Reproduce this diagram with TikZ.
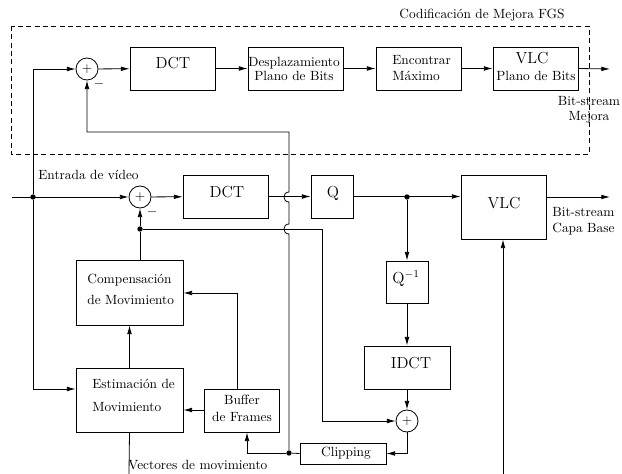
\documentclass[tikz,border=0pt]{standalone}
\usepackage{fontspec}
\usetikzlibrary{arrows.meta,fit}
\begin{document}
\begin{tikzpicture}[x=0.75pt,y=-0.75pt,line width=0.6pt,
  box/.style={draw, inner sep=0pt},
  sumc/.style={draw, circle, minimum size=16.5pt, inner sep=0pt},
  dotn/.style={fill, circle, minimum size=4pt, inner sep=0pt},
  txt/.style={inner sep=0pt, font=\normalsize},
  big/.style={inner sep=0pt, font=\large},
  arr/.style={-{Latex[length=6.5pt,width=3.5pt]}},
  fgs/.style={dash pattern=on 3.75pt off 2.5pt, line width=0.5pt}]
\useasboundingbox (0,0) rectangle (622,474);

% ---------- enhancement layer (FGS) ----------
\draw[fgs] (11,26) rectangle (589,154);
\node[txt] (fgslbl) at (482,15) {Codificación de Mejora FGS};

\node[sumc] (sumA) at (87,69) {$+$};
\node[txt] (minA) at (99,84) {$-$};
\node[box, fit={(130,47) (215,90)}] (dctA) {};
\node[big] (dctAt) at (173,63) {DCT};
\node[box, fit={(248,47) (343,90)}] (desp) {};
\node[txt, align=center] (despt) at (294,69) {Desplazamiento\\[-1.5pt]Plano de Bits};
\node[box, fit={(376,47) (461,90)}] (enc) {};
\node[txt, align=left, anchor=west] (enct) at (392,68) {Encontrar\\Máximo};
\node[box, fit={(493,47) (578,90)}] (vlcA) {};
\node[big] (vlcAt) at (532,58) {VLC};
\node[txt] (vlcAp) at (536,76) {Plano de Bits};
\coordinate (outA) at (610,69);
\node[txt, align=center] (bsA) at (589,109.5) {Bit-stream\\[-0.75pt]Mejora};

% ---------- base layer ----------
\coordinate (vin) at (12,197);
\node[dotn] (din) at (33,197) {};
\node[txt, anchor=west] (vinlbl) at (38,175) {Entrada de vídeo};
\node[sumc] (sumB) at (140,197) {$+$};
\node[txt] (minB) at (152,212) {$-$};
\node[box, fit={(183,175) (268,218)}] (dctB) {};
\node[big] (dctBt) at (227,192) {DCT};
\node[box, fit={(311,175) (353,218)}] (qb) {};
\node[big] (qbt) at (333,193) {Q};
\node[dotn] (dq) at (407,197) {};
\node[box, fit={(461,175) (546,239)}] (vlcB) {};
\node[big] (vlcBt) at (504,203) {VLC};
\coordinate (outB) at (610,197);
\node[txt, align=left, anchor=west] (bsB) at (552,221) {Bit-stream\\Capa Base};

\node[box, fit={(386,261) (428,303)}] (qinv) {};
\node[big] (qinvt) at (406,279) {Q$^{-1}$};
\node[box, fit={(364,346) (450,389)}] (idct) {};
\node[big] (idctt) at (411,363) {IDCT};
\node[sumc] (sumC) at (407,421) {$+$};
\node[box, fit={(300,443) (386,464)}] (clip) {};
\node[txt] (clipt) at (346,453) {Clipping};
\node[dotn] (dclip) at (289,453) {};

\node[dotn] (dsub) at (140,229) {};
\node[box, fit={(76,260) (183,325)}] (comp) {};
\node[txt, align=left, anchor=west] (compt) at (87,289.5) {Compensación\\[3.75pt]de Movimiento};
\node[box, fit={(76,368) (183,432)}] (estim) {};
\node[txt, align=left, anchor=west] (estimt) at (92,395.5) {Estimación de\\[5.25pt]Movimiento};
\node[box, fit={(204,389) (279,432)}] (buf) {};
\node[txt, align=center] (buft) at (242,408.5) {Buffer\\[0.75pt]de Frames};

\coordinate (vecEnd) at (129,474);
\node[txt, anchor=west] (veclbl) at (128,465) {Vectores de movimiento};
\coordinate (vlcIn) at (503,474);

% ---------- connectors: enhancement layer ----------
\draw[arr] (din) |- (sumA.west);
\draw[arr] (sumA) -- (dctA);
\draw[arr] (dctA) -- (desp);
\draw[arr] (desp) -- (enc);
\draw[arr] (enc) -- (vlcA);
\draw[arr] (vlcA.east) -- (outA);
% reconstructed frame fed back to the enhancement subtractor, hopping over the base rows
\draw[arr] (dclip) -- (289,234)
  .. controls (282.3,234) and (282.3,224) .. (289,224) -- (289,202)
  .. controls (282.3,202) and (282.3,192) .. (289,192) -- (289,132) -| (sumA.south);

% ---------- connectors: base layer ----------
\draw[arr] (vin) -- (sumB.west);
\draw[arr] (din) |- (33,389 -| estim.west);
\draw[arr] (sumB) -- (dctB);
\draw[arr] (dctB) -- (qb);
\draw[arr] (qb.east) -- (qb.east -| vlcB.west);
\draw[arr] (vlcB.east |- outB) -- (outB);
\draw[arr] (dq) -- (qinv);
\draw[arr] (qinv) -- (idct);
\draw[arr] (idct) -- (sumC);
\draw[arr] (sumC.south) |- (clip.east);
\draw (clip.west) -- (dclip);
\draw[arr] (dclip) -| (buf.south -| 247,0);
\draw[arr] (buf.west |- 0,410) -- (estim.east |- 0,410);
\draw[arr] (buf.north -| 237,0) |- (comp.east |- 0,293);
\draw[arr] (estim.north) -- (comp.south);
\draw (comp.north -| dsub) -- (dsub);
\draw[arr] (dsub) -- (sumB.south);
\draw[arr] (dsub) -- (322,229) |- (sumC.west);
\draw (estim.south) -- (vecEnd);
\draw[arr] (vlcIn) -- (vlcIn |- vlcB.south);
\end{tikzpicture}
\end{document}
